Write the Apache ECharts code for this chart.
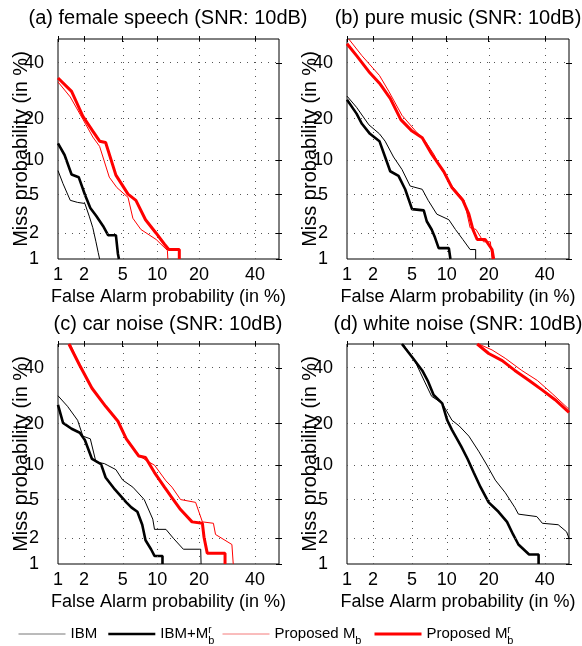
<!DOCTYPE html>
<html>
<head>
<meta charset="utf-8">
<script src="https://cdn.jsdelivr.net/npm/echarts@6/dist/echarts.min.js"></script>
<style>html,body{margin:0;padding:0;background:#fff;}#chart{width:582px;height:646px;}</style>
</head>
<body>
<div id="chart"></div>
<script>
// ---------- data (percent values: [False Alarm %, Miss %]) ----------
const tickPct = [1, 2, 5, 10, 20, 40];
const gridPct = [2, 5, 10, 20, 40];
const titles = [
  '(a) female speech (SNR: 10dB)',
  '(b) pure music (SNR: 10dB)',
  '(c) car noise (SNR: 10dB)',
  '(d) white noise (SNR: 10dB)'
];
const seriesNames = ['IBM', 'IBM+Mrb', 'Proposed Mb', 'Proposed Mrb'];

// (a) female speech
const a_ibm = [[1,8.2],[1.15,6.3],[1.4,4.4],[1.7,4.2],[2.05,4.1],[2.3,3.0],[2.5,2.3],[2.7,1.6],[2.85,1.2],[2.95,1.0]];
const a_ibmM = [[1,13.5],[1.2,11],[1.45,7.6],[1.75,7.2],[2.05,5.0],[2.35,3.7],[2.7,3.1],[3.2,2.4],[3.6,1.9],[4.3,1.9],[4.5,1.15],[4.6,1.0]];
const a_pMb = [[1,32.5],[1.4,27],[1.95,19.8],[2.5,15],[2.95,12.8],[3.7,7.2],[4.4,5.8],[5.6,4.7],[6.2,2.9],[7.3,2.2],[9.8,1.7],[12,1.27],[12.1,1.0]];
const a_pMrb = [[1,34],[1.45,29],[1.95,20.7],[2.5,16.5],[2.95,14],[3.4,13.7],[4.3,7.5],[5.6,5.05],[6.6,4.4],[8,2.8],[9.8,2.0],[11.4,1.5],[12.3,1.3],[14.7,1.3],[14.7,1.0]];

// (b) pure music
const b_ibm = [[1,27.3],[1.3,23.5],[1.8,18.2],[2.35,15.8],[2.7,14],[3.3,10.6],[4,8.4],[4.8,6],[6.2,5.6],[7,4.4],[8.3,3.2],[10.4,2.8],[11.7,2.2],[13.3,1.7],[15,1.3],[16.4,1.3],[16.4,1.0]];
const b_ibmM = [[1,26],[1.3,21.5],[1.5,18.5],[1.85,15.8],[2.35,14],[2.7,10.6],[3.05,8.1],[3.7,7.4],[4.3,5.6],[5,3.6],[6.4,3.5],[6.8,2.7],[7.5,2.2],[8,1.8],[8.6,1.35],[10.4,1.35],[10.7,1.0]];
const b_pMb = [[1.05,50],[1.5,43],[2.35,35],[2.95,29],[4,21],[5.4,16.5],[6.6,14],[7.8,11.2],[10.4,6.5],[13.6,4.4],[15,2.3],[16.5,2.2],[18.5,1.6],[20.5,1.6],[21,1.0]];
const b_pMrb = [[1,48],[1.3,43],[1.8,36.5],[2.35,32],[3.05,26.5],[3.9,19.7],[5,16.5],[6.2,14.8],[7.5,11.2],[9.5,8],[11,5.8],[13.3,4.4],[14.7,3.2],[15.7,2.2],[16.8,1.7],[19,1.7],[21,1.3],[21.5,1.0]];

// (c) car noise
const c_ibm = [[1,29.2],[1.3,25.5],[1.7,21],[1.95,16.5],[2.35,15.8],[2.7,10.6],[3.3,10.3],[4.3,9.2],[5,7.5],[6.2,6.5],[7.8,5],[9.2,3.2],[9.5,2.5],[11.7,2.5],[13.3,2],[15.7,1.5],[20.5,1.5],[20.6,1.0]];
const c_ibmM = [[1,26],[1.15,20.2],[1.45,18.5],[1.8,17.4],[2.05,15.5],[2.45,11.2],[3.05,10.2],[3.4,7.9],[4.2,6.2],[5.4,4.7],[6,4.2],[6.8,3.8],[7.5,2.8],[8,1.9],[8.9,1.5],[9.5,1.25],[11,1.25],[11,1.0]];
const c_pMb = [[1.4,50],[1.8,41],[2.45,32],[3.4,25.5],[4.5,20.7],[5.4,16],[7,12],[8,11],[9.5,10],[11.7,7.4],[13,6.5],[15,5],[19,4.7],[21,3],[24.5,2.9],[25.2,2.2],[31,1.7],[31.5,1.0]];
const c_pMrb = [[1.35,50],[1.8,41],[2.45,32],[3.4,25.5],[4.5,20.7],[5.4,15.8],[7,11.8],[8,11.5],[9.5,8.7],[11.4,6.5],[13.3,5],[15,4],[18,3],[21,2.9],[21.5,2.05],[22.5,1.35],[28.5,1.35],[28.5,1.0]];

// (d) white noise
const d_ibm = [[4.1,50],[5.3,43],[6.6,34],[7.5,29],[9.2,26.5],[11,21],[12.5,19.3],[14.7,16.5],[17.3,12.7],[19.5,10],[22,7.5],[25.2,5.8],[28.5,4.2],[29.8,3.6],[36.8,3.4],[39,2.9],[45.5,2.8],[49,2.35],[50,2]];
const d_ibmM = [[4,50],[5,44.5],[6.2,39],[7,34.5],[7.8,29.5],[9.2,26.5],[10.1,21],[11,18.2],[12.9,14],[14.4,11.2],[15.9,8.7],[17.7,6.5],[20,4.7],[23,3.8],[25.8,3],[27.9,2.2],[29.8,1.7],[33.8,1.3],[37.5,1.3],[37.5,1.0]];
const d_pMb = [[17.2,50],[21,47.5],[25.2,44],[31,39],[37,35],[43,30],[50,24.5]];
const d_pMrb = [[16.8,50],[20,46],[24.2,43],[28.5,39],[33.8,35],[39,31.3],[44.2,27.8],[50,23.5]];

const panels = [
  [a_ibm, a_ibmM, a_pMb, a_pMrb],
  [b_ibm, b_ibmM, b_pMb, b_pMrb],
  [c_ibm, c_ibmM, c_pMb, c_pMrb],
  [d_ibm, d_ibmM, d_pMb, d_pMrb]
];

// ---------- normal deviate (probit) ----------
function probit(p) {
  const a=[-3.969683028665376e+01,2.209460984245205e+02,-2.759285104469687e+02,1.383577518672690e+02,-3.066479806614716e+01,2.506628277459239e+00];
  const b=[-5.447609879822406e+01,1.615858368580409e+02,-1.556989798598866e+02,6.680131188771972e+01,-1.328068155288572e+01];
  const c=[-7.784894002430293e-03,-3.223964580411365e-01,-2.400758277161838e+00,-2.549732539343734e+00,4.374664141464968e+00,2.938163982698783e+00];
  const d=[7.784695709041462e-03,3.224671290700398e-01,2.445134137142996e+00,3.754408661907416e+00];
  const pl=0.02425, ph=1-pl; let q,r;
  if (p<pl){q=Math.sqrt(-2*Math.log(p));return (((((c[0]*q+c[1])*q+c[2])*q+c[3])*q+c[4])*q+c[5])/((((d[0]*q+d[1])*q+d[2])*q+d[3])*q+1);}
  if (p<=ph){q=p-0.5;r=q*q;return (((((a[0]*r+a[1])*r+a[2])*r+a[3])*r+a[4])*r+a[5])*q/(((((b[0]*r+b[1])*r+b[2])*r+b[3])*r+b[4])*r+1);}
  q=Math.sqrt(-2*Math.log(1-p));return -(((((c[0]*q+c[1])*q+c[2])*q+c[3])*q+c[4])*q+c[5])/((((d[0]*q+d[1])*q+d[2])*q+d[3])*q+1);
}
const P = v => (v >= 50 ? 0 : probit(v / 100));
const PMIN = P(1), PMAX = 0;
const tickVals = tickPct.map(P);
const gridVals = gridPct.map(P);
const labelFmt = v => { const i = tickVals.findIndex(t => Math.abs(t - v) < 1e-6); return i >= 0 ? String(tickPct[i]) : ''; };

const FONT = 'Liberation Sans, Arial, Helvetica, sans-serif';
const grids = [
  {left: 58, top: 39, width: 221, height: 220},
  {left: 347, top: 39, width: 222, height: 220},
  {left: 58, top: 344, width: 221, height: 220},
  {left: 347, top: 344, width: 222, height: 220}
].map(g => Object.assign({show: true, borderColor: '#000', borderWidth: 1, backgroundColor: '#fff', containLabel: false, outerBoundsMode: 'none'}, g));

const styles = [
  {color: '#000', width: 1},
  {color: '#000', width: 2.6},
  {color: '#ff0000', width: 1},
  {color: '#ff0000', width: 3}
];
const legendLineColors = ['#777777', '#000000', '#f47a7a', '#ff0000'];

const xAxes = [], yAxes = [], series = [];
const tickCommon = {show: true, inside: true, length: 3, customValues: tickVals, lineStyle: {color: '#000', width: 1}};
grids.forEach((g, i) => {
  xAxes.push({
    type: 'value', gridIndex: i, min: PMIN, max: PMAX, position: 'bottom',
    axisLine: {show: false}, splitLine: {show: false}, axisTick: tickCommon,
    axisLabel: {show: true, customValues: tickVals, formatter: labelFmt, color: '#000', fontSize: 18, fontFamily: FONT, margin: 7},
    name: 'False Alarm probability (in %)', nameLocation: 'middle', nameGap: 29, nameMoveOverlap: false,
    nameTextStyle: {color: '#000', fontSize: 18, fontFamily: FONT}
  });
  xAxes.push({
    type: 'value', gridIndex: i, min: PMIN, max: PMAX, position: 'top',
    axisLine: {show: false}, splitLine: {show: false}, axisTick: tickCommon, axisLabel: {show: false}
  });
  yAxes.push({
    type: 'value', gridIndex: i, min: PMIN, max: PMAX, position: 'left',
    axisLine: {show: false}, splitLine: {show: false}, axisTick: tickCommon,
    axisLabel: {show: true, customValues: tickVals, formatter: labelFmt, color: '#000', fontSize: 18, fontFamily: FONT, margin: 24, align: 'center'},
    name: 'Miss probability (in %)', nameLocation: 'middle', nameGap: 27, nameMoveOverlap: false,
    nameTextStyle: {color: '#000', fontSize: 20, fontFamily: FONT}
  });
  yAxes.push({
    type: 'value', gridIndex: i, min: PMIN, max: PMAX, position: 'right',
    axisLine: {show: false}, splitLine: {show: false}, axisTick: tickCommon, axisLabel: {show: false}
  });
  panels[i].forEach((arr, k) => {
    const s = {
      type: 'line', name: seriesNames[k], xAxisIndex: 2 * i, yAxisIndex: 2 * i,
      data: arr.map(([x, y]) => [P(x), P(y)]),
      showSymbol: false, symbol: 'none', smooth: false, clip: true,
      lineStyle: {color: styles[k].color, width: styles[k].width},
      itemStyle: {color: styles[k].color}, z: 3 + k, animation: false, silent: true
    };
    if (k === 0) {
      s.markLine = {
        silent: true, symbol: ['none', 'none'], animation: false, label: {show: false},
        lineStyle: {type: [1, 6], color: '#555', width: 1},
        data: gridVals.map(v => ({xAxis: v})).concat(gridVals.map(v => ({yAxis: v})))
      };
    }
    series.push(s);
  });
});

const legendFmt = {
  'IBM': 'IBM',
  'IBM+Mrb': 'IBM+M{sup|r}{sub|b}',
  'Proposed Mb': 'Proposed M{sub|b}',
  'Proposed Mrb': 'Proposed M{sup|r}{sub|b}'
};
const legendLeft = [18, 107, 222, 373];
const legends = seriesNames.map((n, k) => ({
  data: [{name: n, lineStyle: {color: legendLineColors[k], width: styles[k].width}, itemStyle: {opacity: 0}}],
  left: legendLeft[k], top: 622, padding: 0, itemWidth: 47, itemHeight: 14,
  itemStyle: {opacity: 0},
  selectedMode: false, formatter: name => legendFmt[name],
  textStyle: {
    color: '#000', fontSize: 15, fontFamily: FONT, lineHeight: 24,
    rich: {
      sup: {fontSize: 10, fontFamily: FONT, lineHeight: 10, verticalAlign: 'top', width: 0, color: '#000', padding: [3, 0, 0, 0]},
      sub: {fontSize: 11, fontFamily: FONT, lineHeight: 11, verticalAlign: 'bottom', color: '#000'}
    }
  }
}));

const titleCenters = [[168, 18], [458, 18], [168, 324], [458, 324]];
const graphics = titles.map((t, i) => ({
  type: 'text', x: titleCenters[i][0], y: titleCenters[i][1], silent: true,
  style: {text: t, fill: '#000', fontSize: 20, fontFamily: FONT, textAlign: 'center', textVerticalAlign: 'middle'}
}));

const chart = echarts.init(document.getElementById('chart'), null, {renderer: 'canvas'});
chart.setOption({
  animation: false,
  backgroundColor: '#fff',
  grid: grids, xAxis: xAxes, yAxis: yAxes, series: series,
  legend: legends, graphic: graphics
});
</script>
</body>
</html>
